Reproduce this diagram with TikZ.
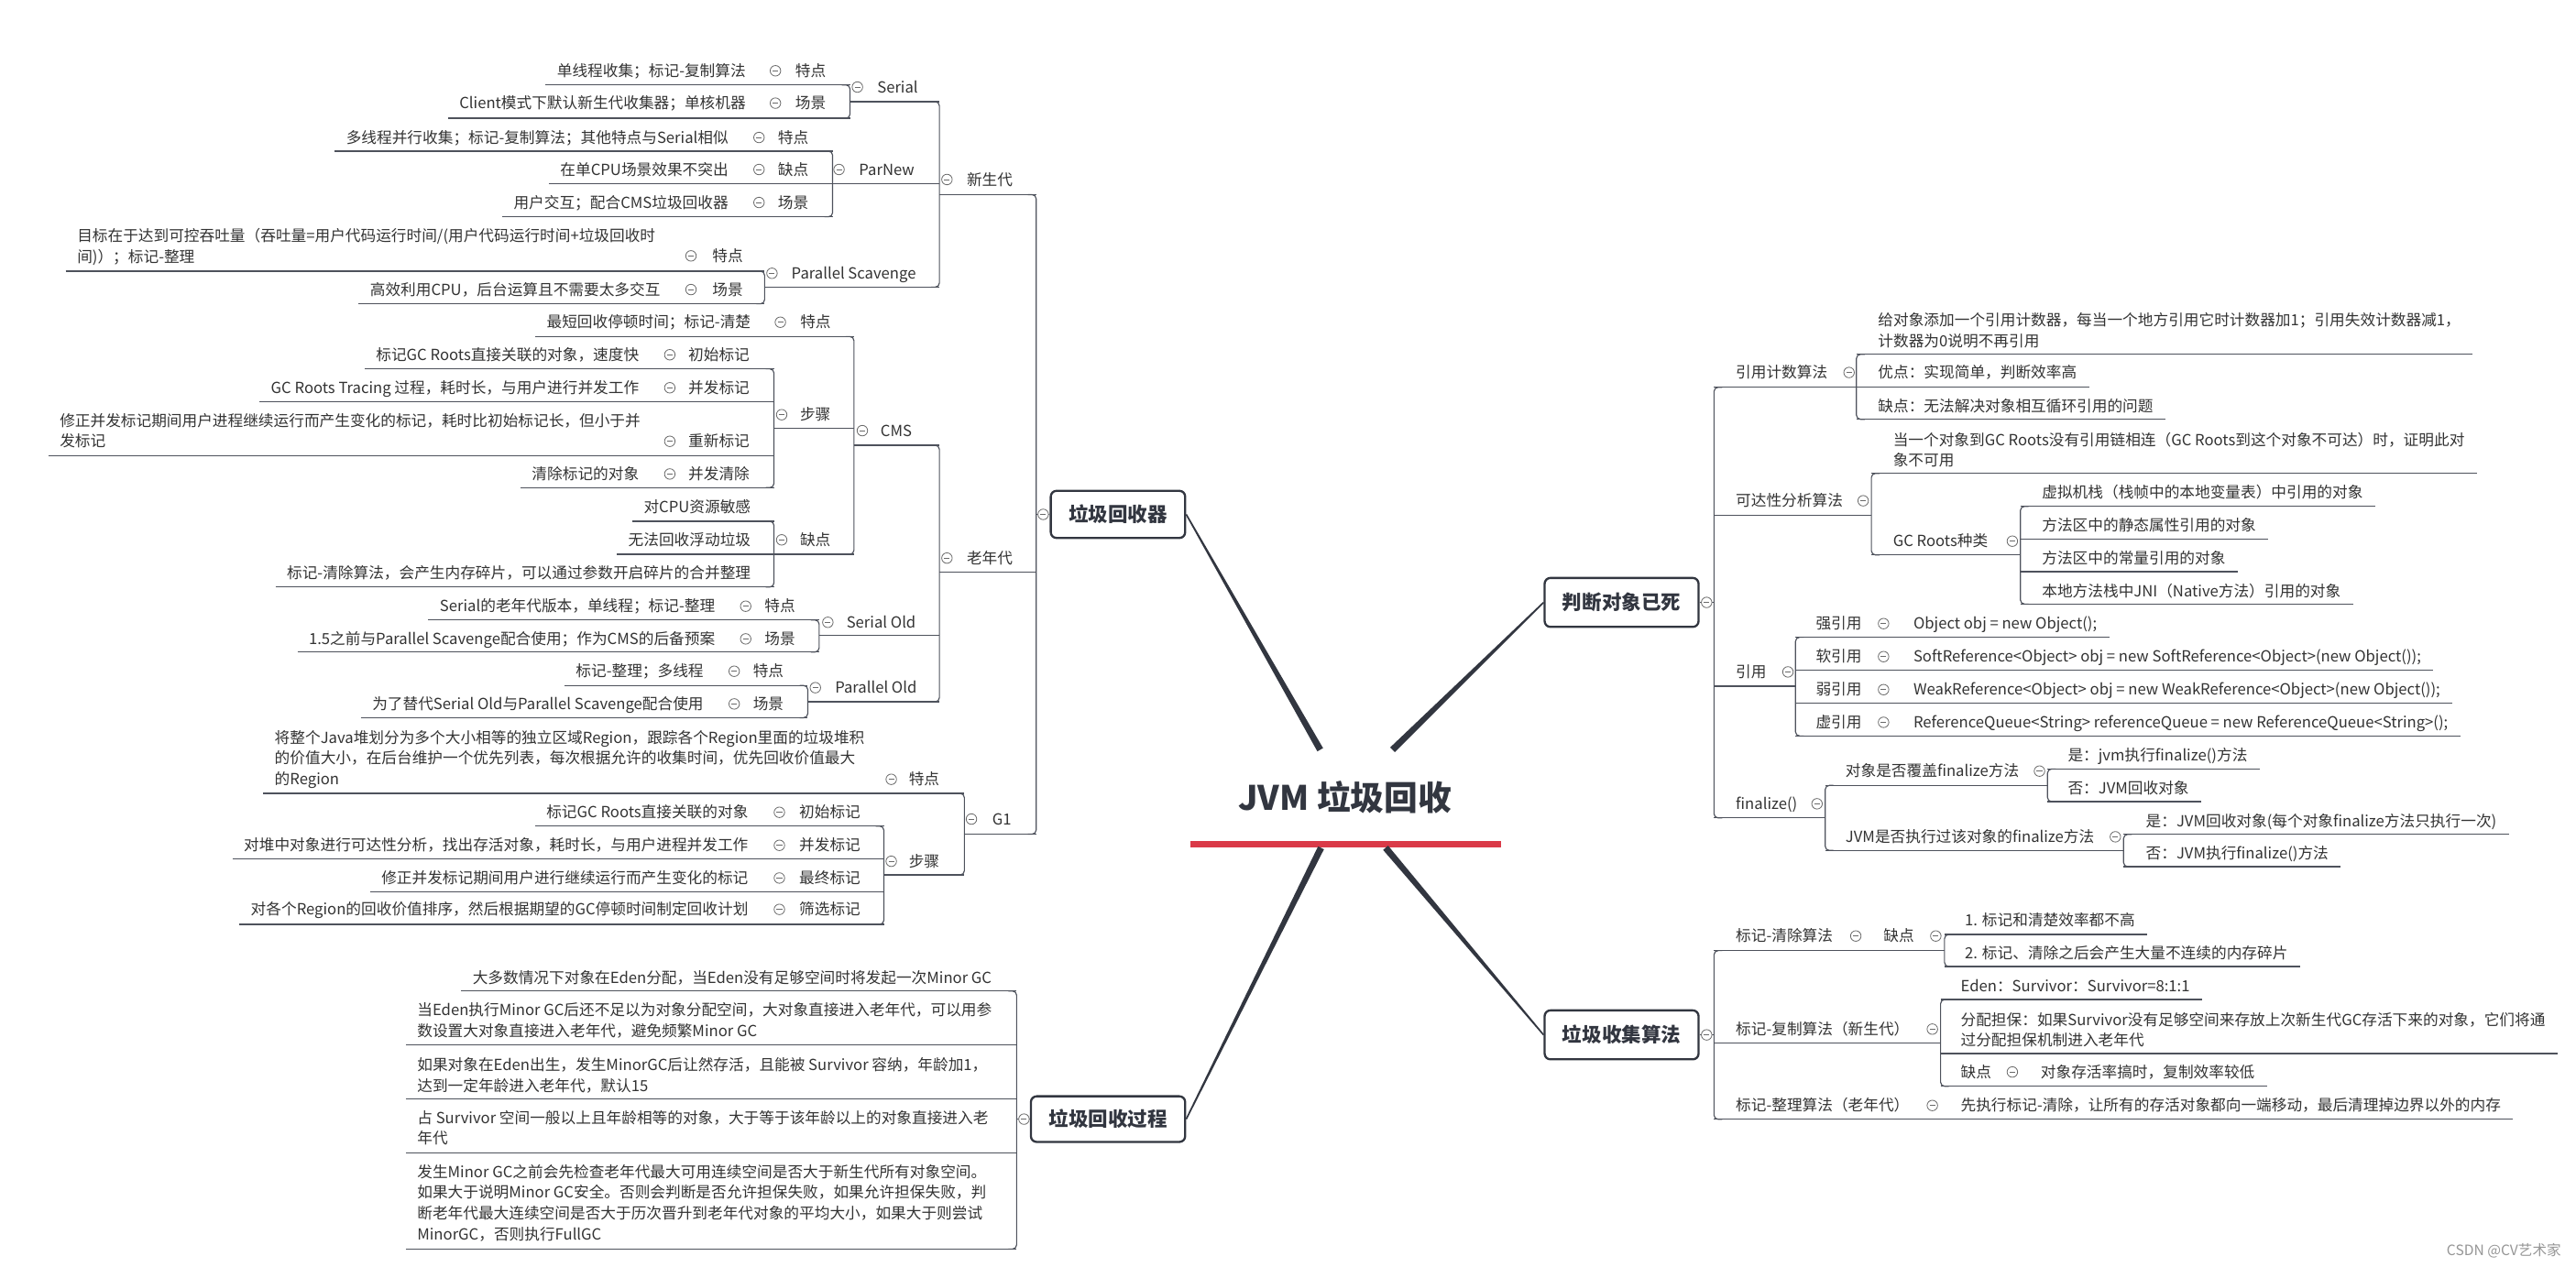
\documentclass[tikz,border=0pt]{standalone}
\usepackage{fontspec}
\setmainfont{Noto Sans CJK SC}
\usetikzlibrary{calc}
\definecolor{txtc}{RGB}{51,51,51}
\definecolor{linec}{RGB}{78,82,92}
\definecolor{iconc}{RGB}{105,105,105}
\definecolor{boxc}{RGB}{50,54,64}
\definecolor{redc}{RGB}{218,58,72}
\definecolor{wmc}{RGB}{150,150,150}
\newcommand\fsm{\fontsize{9.3}{12.6}\selectfont}
\newcommand\mlt[1]{\begin{tabular}[t]{@{}l@{}}#1\end{tabular}}
\tikzset{
  tx/.style={font=\fsm, text=txtc, inner sep=0pt, outer sep=0pt},
  ln/.style={draw=linec, line width=0.65pt},
  bx/.style={draw=boxc, line width=1.3pt, rounded corners=3.5pt, fill=white,
    font=\fontsize{12}{14}\selectfont\bfseries, text=boxc, text height=10.5pt, text depth=1.5pt, inner sep=0pt},
}
\newcommand\ico[2]{\draw[iconc, line width=0.45pt, fill=white] (#1,#2) circle[radius=3.2pt];
  \draw[iconc, line width=0.45pt] (#1-1.7,#2) -- (#1+1.7,#2);}
% left row: name, text right x, cy, icon x, label x, text, label
\newcommand\LRow[7]{\node[tx, anchor=base east] (#1) at (#2,#3+3.4) {#6};
  \ico{#4}{#3}
  \node[tx, anchor=base west] (#1l) at (#5,#3+3.4) {#7};}
\newcommand\ULL[3]{\draw[ln] (#1.west |- 0,#2) ++(-7,0) -- (#3,#2);}
\newcommand\ULR[3]{\draw[ln] (#3,#2) -- (#1.east |- 0,#2) -- ++(7.5,0);}
\newcommand\brL[3]{\draw[ln, rounded corners=2.5pt] (#1-5,#2) -- (#1,#2) -- (#1,#3) -- (#1-5,#3);}
\newcommand\brR[3]{\draw[ln, rounded corners=2.5pt] (#1+5,#2) -- (#1,#2) -- (#1,#3) -- (#1+5,#3);}
\newcommand\hln[3]{\draw[ln] (#1,#3) -- (#2,#3);}
\newcommand\taper[2]{\fill[boxc] ($(#1)!2pt!90:(#2)$) -- ($(#2)!0.45pt!-90:(#1)$) -- ($(#2)!0.45pt!90:(#1)$) -- ($(#1)!2pt!-90:(#2)$) -- cycle;}
\begin{document}
\begin{tikzpicture}[x=1pt,y=-1pt]
\useasboundingbox[fill=white] (0,0) rectangle (1568,771);

% ---------- centre ----------
\node[font=\fontsize{20.5}{24}\selectfont\bfseries, text=boxc, inner sep=0pt, text height=18pt, text depth=2.5pt] (root) at (818.7,485.8) {JVM 垃圾回收};
\draw[redc, line width=3.9pt] (724.6,514.2) coordinate (rl) -- (913.5,514.2) coordinate (rr);

\node[bx, minimum width=81.8pt, minimum height=28.7pt] (gcr) at (680.5,313.2) {垃圾回收器};
\node[bx, minimum width=93.9pt, minimum height=27.8pt] (gcp) at (674.45,681.4) {垃圾回收过程};
\node[bx, minimum width=93.7pt, minimum height=29.8pt] (dead) at (987.05,366.8) {判断对象已死};
\node[bx, minimum width=93.7pt, minimum height=29.8pt] (algo) at (987.05,630.1) {垃圾收集算法};

\coordinate (c1) at (803.6,456.5);
\coordinate (c2) at (847.6,456.5);
\coordinate (c3) at (804.1,516.2);
\coordinate (c4) at (843.4,516.2);
\taper{c1}{gcr.east}
\taper{c2}{dead.west}
\taper{c3}{gcp.east}
\taper{c4}{algo.west}

% ---------- 新生代 : Serial ----------
\LRow{s1}{453.9}{43.1}{472}{484.1}{单线程收集；标记-复制算法}{特点}
\LRow{s2}{453.9}{62.8}{472}{484.1}{Client模式下默认新生代收集器；单核机器}{场景}
\ULL{s1}{51.7}{517.4}
\ULL{s2}{72}{517.4}
\brL{517.4}{51.7}{72}
\ico{521.9}{53}
\node[tx,anchor=base west] (serial) at (534,56.4) {Serial};
\hln{517.4}{571.8}{61.9}

% ParNew
\LRow{p1}{443.3}{83.7}{462}{473.5}{多线程并行收集；标记-复制算法；其他特点与Serial相似}{特点}
\LRow{p2}{443.3}{103.2}{462}{473.5}{在单CPU场景效果不突出}{缺点}
\LRow{p3}{443.3}{123.3}{462}{473.5}{用户交互；配合CMS垃圾回收器}{场景}
\ULL{p1}{92}{506.8}
\ULL{p2}{112}{506.8}
\ULL{p3}{132}{506.8}
\brL{506.8}{92}{132}
\ico{510.7}{103.2}
\node[tx,anchor=base west] (parnew) at (522.9,106.6) {ParNew};
\hln{506.8}{571.8}{112}

% Parallel Scavenge
\node[tx,anchor=base west] (ps1) at (47,147) {\mlt{目标在于达到可控吞吐量（吞吐量=用户代码运行时间/(用户代码运行时间+垃圾回收时\\间)）；标记-整理}};
\ico{420.6}{155.8}
\node[tx,anchor=base west] (ps1l) at (433.6,159.2) {特点};
\LRow{ps2}{401.9}{176.3}{420.6}{433.6}{高效利用CPU，后台运算且不需要太多交互}{场景}
\ULL{ps1}{165.1}{465.4}
\ULL{ps2}{185}{465.4}
\brL{465.4}{165.1}{185}
\ico{469.9}{166.4}
\node[tx,anchor=base west] (ps) at (481.8,169.8) {Parallel Scavenge};
\hln{465.4}{571.8}{174.8}

% 新生代
\brL{571.8}{61.9}{174.8}
\ico{576.4}{109.3}
\node[tx,anchor=base west] (xsd) at (588.5,112.7) {新生代};
\hln{571.8}{630.7}{118.5}

% ---------- 老年代 : CMS ----------
\LRow{cm1}{456.9}{196.2}{475}{487.1}{最短回收停顿时间；标记-清楚}{特点}
\ULL{cm1}{204.9}{519.8}
\LRow{cm2a}{388.9}{216}{407.7}{419}{标记GC Roots直接关联的对象，速度快}{初始标记}
\LRow{cm2b}{388.9}{236.1}{407.7}{419}{GC Roots Tracing 过程，耗时长，与用户进行并发工作}{并发标记}
\node[tx,anchor=base west] (cm2c) at (36.4,259.6) {\mlt{修正并发标记期间用户进程继续运行而产生变化的标记，耗时比初始标记长，但小于并\\发标记}};
\ico{407.7}{268.7}
\node[tx,anchor=base west] (cm2cl) at (419,272.1) {重新标记};
\LRow{cm2d}{388.9}{288.6}{407.7}{419}{清除标记的对象}{并发清除}
\ULL{cm2a}{224.6}{471.1}
\ULL{cm2b}{244.5}{471.1}
\ULL{cm2c}{277.4}{471.1}
\ULL{cm2d}{296.9}{471.1}
\brL{471.1}{224.6}{296.9}
\ico{475.8}{252.5}
\node[tx,anchor=base west] (cmsteps) at (487,255.9) {步骤};
\hln{471.1}{519.8}{260.9}

\node[tx,anchor=base east] (cm3a) at (456.9,312.1) {对CPU资源敏感};
\node[tx,anchor=base east] (cm3b) at (456.9,332.1) {无法回收浮动垃圾};
\node[tx,anchor=base east] (cm3c) at (456.9,352) {标记-清除算法，会产生内存碎片，可以通过参数开启碎片的合并整理};
\ULL{cm3a}{317.4}{471.1}
\ULL{cm3b}{337.5}{471.1}
\ULL{cm3c}{357.4}{471.1}
\brL{471.1}{317.4}{357.4}
\ico{475.8}{328.7}
\node[tx,anchor=base west] (cmcons) at (487,332.1) {缺点};
\hln{471.1}{519.8}{337.5}

\brL{519.8}{204.9}{337.5}
\ico{524.9}{262.2}
\node[tx,anchor=base west] (cms) at (536,265.6) {CMS};
\hln{519.8}{571.8}{271.1}

% Serial Old
\LRow{so1}{435.2}{369.1}{453.9}{465.4}{Serial的老年代版本，单线程；标记-整理}{特点}
\LRow{so2}{435.2}{389}{453.9}{465.4}{1.5之前与Parallel Scavenge配合使用；作为CMS的后备预案}{场景}
\ULL{so1}{377.5}{498.6}
\ULL{so2}{397}{498.6}
\brL{498.6}{377.5}{397}
\ico{503.9}{378.9}
\node[tx,anchor=base west] (sold) at (515.3,382.3) {Serial Old};
\hln{498.6}{571.8}{386.8}

% Parallel Old
\LRow{po1}{428.2}{408.7}{446.9}{458.4}{标记-整理；多线程}{特点}
\LRow{po2}{428.2}{428.6}{446.9}{458.4}{为了替代Serial Old与Parallel Scavenge配合使用}{场景}
\ULL{po1}{417.4}{491.7}
\ULL{po2}{437}{491.7}
\brL{491.7}{417.4}{437}
\ico{496.3}{418.7}
\node[tx,anchor=base west] (pold) at (508.3,422.1) {Parallel Old};
\hln{491.7}{571.8}{427.3}

% 老年代
\brL{571.8}{271.1}{427.3}
\ico{576.4}{339.8}
\node[tx,anchor=base west] (lnd) at (588.5,343.2) {老年代};
\hln{571.8}{630.7}{348.4}

% ---------- G1 ----------
\node[tx,anchor=base west] (g1a) at (167.2,452.4) {\mlt{将整个Java堆划分为多个大小相等的独立区域Region，跟踪各个Region里面的垃圾堆积\\的价值大小，在后台维护一个优先列表，每次根据允许的收集时间，优先回收价值最大\\的Region}};
\ico{542.5}{474.5}
\node[tx,anchor=base west] (g1al) at (553.2,477.9) {特点};
\ULL{g1a}{483.1}{587}
\LRow{g2a}{455.4}{494.6}{474.4}{486.5}{标记GC Roots直接关联的对象}{初始标记}
\LRow{g2b}{455.4}{514.7}{474.4}{486.5}{对堆中对象进行可达性分析，找出存活对象，耗时长，与用户进程并发工作}{并发标记}
\LRow{g2c}{455.4}{534.6}{474.4}{486.5}{修正并发标记期间用户进行继续运行而产生变化的标记}{最终标记}
\LRow{g2d}{455.4}{553.7}{474.4}{486.5}{对各个Region的回收价值排序，然后根据期望的GC停顿时间制定回收计划}{筛选标记}
\ULL{g2a}{503}{538}
\ULL{g2b}{522.9}{538}
\ULL{g2c}{543}{538}
\ULL{g2d}{562.8}{538}
\brL{538}{503}{562.8}
\ico{542.5}{524.4}
\node[tx,anchor=base west] (g1steps) at (553.2,527.8) {步骤};
\hln{538}{587}{532.7}
\brL{587}{483.1}{532.7}
\ico{591.3}{498.7}
\node[tx,anchor=base west] (g1) at (604,502.1) {G1};
\hln{587}{630.7}{507.9}

% 垃圾回收器 bracket
\brL{630.7}{118.5}{507.9}
\draw[ln] (630.7,313.2) -- (gcr.west);
\ico{635}{313.2}

% ---------- 垃圾回收过程 ----------
\node[tx,anchor=base east] (r1) at (603.6,598.8) {大多数情况下对象在Eden分配，当Eden没有足够空间时将发起一次Minor GC};
\node[tx,anchor=base west] (r2) at (254,618.5) {\mlt{当Eden执行Minor GC后还不足以为对象分配空间，大对象直接进入老年代，可以用参\\数设置大对象直接进入老年代，避免频繁Minor GC}};
\node[tx,anchor=base west] (r3) at (254,652) {\mlt{如果对象在Eden出生，发生MinorGC后让然存活，且能被 Survivor 容纳，年龄加1，\\达到一定年龄进入老年代，默认15}};
\node[tx,anchor=base west] (r4) at (254,683.9) {\mlt{占 Survivor 空间一般以上且年龄相等的对象，大于等于该年龄以上的对象直接进入老\\年代}};
\node[tx,anchor=base west] (r5) at (254,717) {\mlt{发生Minor GC之前会先检查老年代最大可用连续空间是否大于新生代所有对象空间。\\如果大于说明Minor GC安全。否则会判断是否允许担保失败，如果允许担保失败，判\\断老年代最大连续空间是否大于历次晋升到老年代对象的平均大小，如果大于则尝试\\MinorGC，否则执行FullGC}};
\ULL{r1}{603.4}{618.8}
\ULL{r2}{636.3}{618.8}
\ULL{r3}{669}{618.8}
\ULL{r4}{701.9}{618.8}
\ULL{r5}{760.5}{618.8}
\brL{618.8}{603.4}{760.5}
\draw[ln] (618.8,681.4) -- (gcp.west);
\ico{623.3}{681.4}

% ---------- 判断对象已死 ----------
\draw[ln] (dead.east) -- (1043.3,366.8);
\ico{1038.8}{366.8}
\brR{1043.3}{235.8}{498}

\node[tx,anchor=base west] (rc) at (1056.6,230.2) {引用计数算法};
\ico{1125.5}{226.8}
\hln{1043.3}{1130}{235.8}
\brR{1130}{215.7}{255.3}
\node[tx,anchor=base west] (rc1) at (1143.2,198.3) {\mlt{给对象添加一个引用计数器，每当一个地方引用它时计数器加1；引用失效计数器减1，\\计数器为0说明不再引用}};
\node[tx,anchor=base west] (rc2) at (1143.2,230.2) {优点：实现简单，判断效率高};
\node[tx,anchor=base west] (rc3) at (1143.2,250.7) {缺点：无法解决对象相互循环引用的问题};
\ULR{rc1}{215.7}{1130}
\ULR{rc2}{235.7}{1130}
\ULR{rc3}{255.3}{1130}

\node[tx,anchor=base west] (ra) at (1056.6,308.3) {可达性分析算法};
\ico{1134.1}{304.9}
\hln{1043.3}{1139.1}{313.7}
\brR{1139.1}{288.2}{337.9}
\node[tx,anchor=base west] (ra1) at (1152.3,271.2) {\mlt{当一个对象到GC Roots没有引用链相连（GC Roots到这个对象不可达）时，证明此对\\象不可用}};
\ULR{ra1}{288.2}{1139.1}
\node[tx,anchor=base west] (gcroots) at (1152.3,332.9) {GC Roots种类};
\ico{1224.9}{329.5}
\hln{1139.1}{1229.8}{337.9}
\brR{1229.8}{308.3}{367.8}
\node[tx,anchor=base west] (gr1) at (1243,303.1) {虚拟机栈（栈帧中的本地变量表）中引用的对象};
\node[tx,anchor=base west] (gr2) at (1243,323.2) {方法区中的静态属性引用的对象};
\node[tx,anchor=base west] (gr3) at (1243,343.3) {方法区中的常量引用的对象};
\node[tx,anchor=base west] (gr4) at (1243,363.2) {本地方法栈中JNI（Native方法）引用的对象};
\ULR{gr1}{308.3}{1229.8}
\ULR{gr2}{328.2}{1229.8}
\ULR{gr3}{348.1}{1229.8}
\ULR{gr4}{367.8}{1229.8}

\node[tx,anchor=base west] (yy) at (1056.6,412.5) {引用};
\ico{1088.3}{409.1}
\hln{1043.3}{1092.9}{417.8}
\brR{1092.9}{388}{448.1}
\node[tx,anchor=base west] (y1l) at (1105.3,383.1) {强引用};
\ico{1146.5}{379.7}
\node[tx,anchor=base west] (y1) at (1164.7,383.1) {Object obj = new Object();};
\node[tx,anchor=base west] (y2l) at (1105.3,403.2) {软引用};
\ico{1146.5}{399.8}
\node[tx,anchor=base west] (y2) at (1164.7,403.2) {SoftReference<Object> obj = new SoftReference<Object>(new Object());};
\node[tx,anchor=base west] (y3l) at (1105.3,423.3) {弱引用};
\ico{1146.5}{419.9}
\node[tx,anchor=base west] (y3) at (1164.7,423.3) {WeakReference<Object> obj = new WeakReference<Object>(new Object());};
\node[tx,anchor=base west] (y4l) at (1105.3,443.2) {虚引用};
\ico{1146.5}{439.8}
\node[tx,anchor=base west] (y4) at (1164.7,443.2) {ReferenceQueue<String> referenceQueue = new ReferenceQueue<String>();};
\ULR{y1}{388}{1092.9}
\ULR{y2}{408.1}{1092.9}
\ULR{y3}{428}{1092.9}
\ULR{y4}{448.1}{1092.9}

\node[tx,anchor=base west] (fin) at (1056.6,492.8) {finalize()};
\ico{1106}{489.4}
\hln{1043.3}{1111}{498}
\brR{1111}{478.2}{517.8}
\node[tx,anchor=base west] (f1) at (1123.4,472.9) {对象是否覆盖finalize方法};
\ico{1241.4}{469.5}
\hln{1111}{1246.3}{478.2}
\brR{1246.3}{468.2}{488.1}
\node[tx,anchor=base west] (f1a) at (1258.7,463.2) {是：jvm执行finalize()方法};
\node[tx,anchor=base west] (f1b) at (1258.7,483.1) {否：JVM回收对象};
\ULR{f1a}{468.2}{1246.3}
\ULR{f1b}{488.1}{1246.3}
\node[tx,anchor=base west] (f2) at (1123.4,512.9) {JVM是否执行过该对象的finalize方法};
\ico{1287.6}{509.5}
\hln{1111}{1292.6}{517.8}
\brR{1292.6}{508}{527.7}
\node[tx,anchor=base west] (f2a) at (1306.2,503.2) {是：JVM回收对象(每个对象finalize方法只执行一次)};
\node[tx,anchor=base west] (f2b) at (1306.2,523.1) {否：JVM执行finalize()方法};
\ULR{f2a}{508}{1292.6}
\ULR{f2b}{527.7}{1292.6}

% ---------- 垃圾收集算法 ----------
\draw[ln] (algo.east) -- (1043.3,630.1);
\ico{1038.8}{630.1}
\brR{1043.3}{578.8}{681.5}

\node[tx,anchor=base west] (m1) at (1056.6,573.3) {标记-清除算法};
\ico{1129.6}{569.9}
\node[tx,anchor=base west] (m1l) at (1146.5,573.3) {缺点};
\ico{1178.3}{569.9}
\hln{1043.3}{1183.6}{578.8}
\brR{1183.6}{569}{588.5}
\node[tx,anchor=base west] (m1a) at (1196,563.4) {1. 标记和清楚效率都不高};
\node[tx,anchor=base west] (m1b) at (1196,583.9) {2. 标记、清除之后会产生大量不连续的内存碎片};
\ULR{m1a}{569}{1183.6}
\ULR{m1b}{588.5}{1183.6}

\node[tx,anchor=base west] (m2) at (1056.6,630) {标记-复制算法（新生代）};
\ico{1176.2}{626.6}
\hln{1043.3}{1181.2}{635}
\brR{1181.2}{608.6}{661.4}
\node[tx,anchor=base west] (m2a) at (1193.5,603.6) {Eden：Survivor：Survivor=8:1:1};
\node[tx,anchor=base west] (m2b) at (1193.5,624.4) {\mlt{分配担保：如果Survivor没有足够空间来存放上次新生代GC存活下来的对象，它们将通\\过分配担保机制进入老年代}};
\node[tx,anchor=base west] (m2cl) at (1193.5,656.1) {缺点};
\ico{1224.9}{652.7}
\node[tx,anchor=base west] (m2c) at (1242.2,656.1) {对象存活率搞时，复制效率较低};
\ULR{m2a}{608.6}{1181.2}
\ULR{m2b}{641.5}{1181.2}
\ULR{m2c}{661.4}{1181.2}

\node[tx,anchor=base west] (m3) at (1056.6,676.5) {标记-整理算法（老年代）};
\ico{1176.2}{673.1}
\node[tx,anchor=base west] (m3t) at (1193.5,676.5) {先执行标记-清除，让所有的存活对象都向一端移动，最后清理掉边界以外的内存};
\ULR{m3t}{681.5}{1043.3}

% watermark
\node[font=\fontsize{8.7}{10}\selectfont, text=wmc, inner sep=0pt, anchor=base east] (wm) at (1559.1,764.6) {CSDN @CV艺术家};
\end{tikzpicture}
\end{document}
